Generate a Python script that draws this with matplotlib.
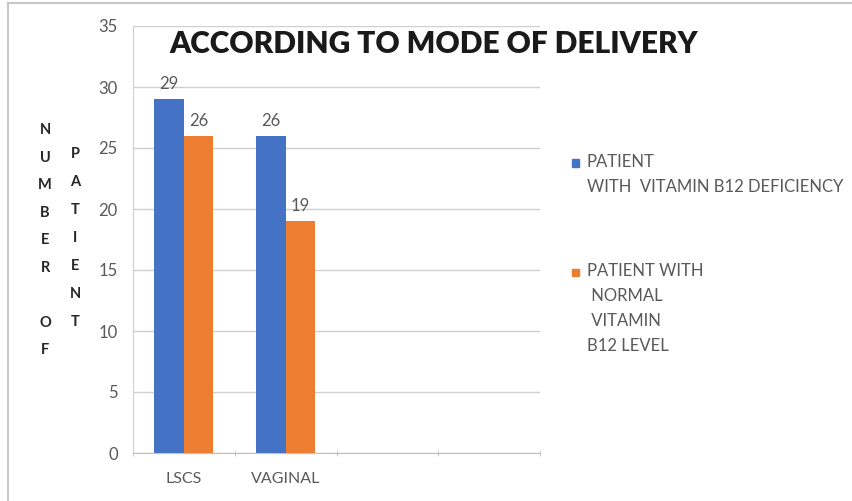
import matplotlib.pyplot as plt
import numpy as np
from matplotlib.patches import Rectangle
from matplotlib.lines import Line2D

plt.rcParams['font.family'] = ['Lato', 'DejaVu Sans']

categories = ['LSCS', 'VAGINAL', '', '']
deficiency = [29, 26]
normal = [26, 19]
series_names = ['PATIENT\nWITH  VITAMIN B12 DEFICIENCY',
                'PATIENT WITH\n NORMAL\n VITAMIN\nB12 LEVEL']
colors = ['#4472C4', '#ED7D31']
grey = '#595959'

fig = plt.figure(figsize=(8.52, 5.01), dpi=100)
ax = fig.add_axes([133 / 852, 1 - 453 / 501, 407 / 852, 427 / 501])

x = np.arange(len(deficiency))
w = 0.29
b1 = ax.bar(x - w / 2, deficiency, w, color=colors[0])
b2 = ax.bar(x + w / 2, normal, w, color=colors[1])
for bars in (b1, b2):
    for r in bars:
        ax.annotate(f'{r.get_height():g}', (r.get_x() + r.get_width() / 2, r.get_height()),
                    xytext=(0, 5), textcoords='offset points', ha='center', va='bottom',
                    fontsize=12, color=grey)

ax.set_xlim(-0.5, len(categories) - 0.5)
ax.set_ylim(0, 35)
ax.set_yticks(range(0, 36, 5))
ax.set_xticks(range(len(categories)))
ax.set_xticklabels(categories)
ax.tick_params(axis='x', length=0, colors=grey, labelsize=11.5, pad=14)
ax.tick_params(axis='y', length=0, colors=grey, labelsize=12, pad=11)
# category separators on the x axis
ax.set_xticks(np.arange(-0.5, len(categories)), minor=True)
ax.tick_params(axis='x', which='minor', length=5, color='#BFBFBF', direction='inout')
ax.grid(axis='y', color='#D0D0D0', linewidth=1)
ax.set_axisbelow(True)
for s in ('top', 'right'):
    ax.spines[s].set_visible(False)
ax.spines['left'].set_color('#D0D0D0')
ax.spines['bottom'].set_color('#BFBFBF')

fig.text(434 / 852, 1 - 44 / 501, 'ACCORDING TO MODE OF DELIVERY', ha='center', va='center',
         fontsize=21.5, fontweight='heavy', color='#1a1a1a')

# stacked-letter axis title
fig.text(45 / 852, 1 - 123 / 501, '\n'.join('NUMBER') + '\n\n' + '\n'.join('OF'),
         ha='center', va='top', fontsize=10.5, fontweight='bold', color='#262626', linespacing=2.23)
fig.text(75 / 852, 1 - 147 / 501, '\n'.join('PATIENT'),
         ha='center', va='top', fontsize=10.5, fontweight='bold', color='#262626', linespacing=2.27)

# legend
for ytop, color, name in zip([163, 272], colors, series_names):
    fig.patches.append(Rectangle((572 / 852, 1 - (ytop + 3.5) / 501), 7 / 852, 7 / 501,
                                 transform=fig.transFigure, color=color))
    fig.text(587 / 852, 1 - (ytop - 9) / 501, name, ha='left', va='top', fontsize=12,
             color=grey, linespacing=1.68)

# frame edges
fig.add_artist(Line2D([8 / 852, 1], [1 - 3 / 501] * 2, color='#C8C8C8', lw=1.5))
fig.add_artist(Line2D([8 / 852] * 2, [0, 1 - 3 / 501], color='#C8C8C8', lw=1.5))

fig.savefig('out.png', dpi=100)
